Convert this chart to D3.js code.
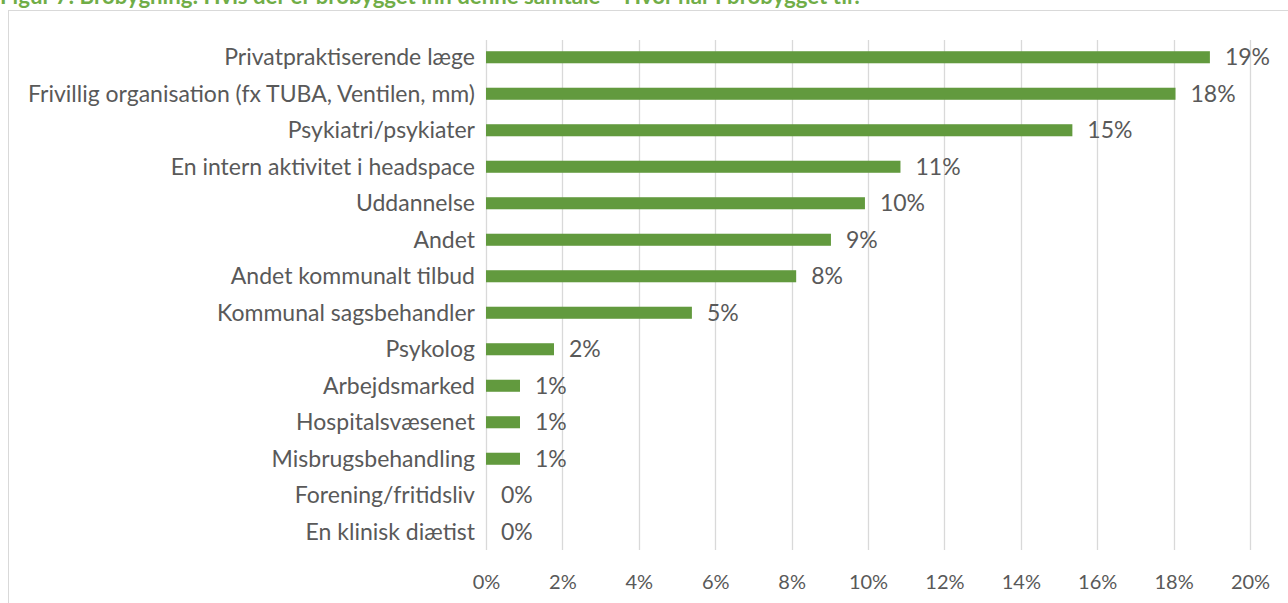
<!DOCTYPE html>
<html><head><meta charset="utf-8">
<script src="https://cdn.jsdelivr.net/npm/d3@7"></script>
<style>
html,body{margin:0;padding:0;background:#fff;overflow:hidden}
svg{display:block}
</style></head>
<body>
<svg id="c" width="1288" height="603"></svg>
<script>
const categories = [
  "Privatpraktiserende læge",
  "Frivillig organisation (fx TUBA, Ventilen, mm)",
  "Psykiatri/psykiater",
  "En intern aktivitet i headspace ",
  "Uddannelse",
  "Andet",
  "Andet kommunalt tilbud",
  "Kommunal sagsbehandler",
  "Psykolog",
  "Arbejdsmarked",
  "Hospitalsvæsenet",
  "Misbrugsbehandling",
  "Forening/fritidsliv",
  "En klinisk diætist"
];
const values = [18.95, 18.05, 15.35, 10.85, 9.92, 9.03, 8.12, 5.39, 1.78, 0.89, 0.89, 0.89, 0, 0];
const valueLabels = ["19%","18%","15%","11%","10%","9%","8%","5%","2%","1%","1%","1%","0%","0%"];
const xTicks = [0,2,4,6,8,10,12,14,16,18,20];
const title = "Figur 7: Brobygning: Hvis der er brobygget inn denne samtale – Hvor har I brobygget til?";

const svg = d3.select("#c");
const font = "Lato, 'Open Sans', sans-serif";
const textColor = "#595959";
const fs = 23;

// title (clipped at top like reference)
svg.append("text").attr("x", 0).attr("y", 4)
  .attr("font-family", "Lato, sans-serif").attr("font-weight", "bold")
  .attr("font-size", 22.2).attr("fill", "#70ad47").text(title);

// chart border
svg.append("rect").attr("x", 8.5).attr("y", 10.5).attr("width", 1300).attr("height", 620)
  .attr("fill", "#fff").attr("stroke", "#d9d9d9").attr("stroke-width", 1);

const x = d3.scaleLinear().domain([0, 20]).range([486, 1250]);
const y = d3.scaleBand().domain(categories).range([39, 550]).paddingInner(0.67).paddingOuter(0.335);

// gridlines
svg.append("g").selectAll("line").data(xTicks).join("line")
  .attr("x1", d => Math.round(x(d)) + 0.5).attr("x2", d => Math.round(x(d)) + 0.5)
  .attr("y1", 40).attr("y2", 550)
  .attr("stroke", "#d9d9d9").attr("stroke-width", 1.3);

// x axis labels
const xAxis = d3.axisBottom(x).tickValues(xTicks).tickFormat(d => d + "%").tickSize(0).tickPadding(0);
const gx = svg.append("g").attr("transform", "translate(0,589)").call(xAxis);
gx.select(".domain").remove();
gx.selectAll("text").attr("font-family", font).attr("font-size", 20).attr("fill", textColor).attr("dy", "0");

// y axis labels
const yAxis = d3.axisLeft(y).tickSize(0).tickPadding(0);
const gy = svg.append("g").attr("transform", "translate(475,0)").call(yAxis);
gy.select(".domain").remove();
gy.selectAll("text").attr("font-family", font).attr("font-size", fs).attr("fill", textColor).attr("dy", "0.35em");

// bars
svg.append("g").selectAll("rect").data(categories).join("rect")
  .attr("x", x(0))
  .attr("y", d => y(d))
  .attr("width", (d, i) => x(values[i]) - x(0))
  .attr("height", y.bandwidth())
  .attr("fill", "#629a3e");

// value labels
svg.append("g").selectAll("text").data(categories).join("text")
  .attr("x", (d, i) => x(values[i]) + 15)
  .attr("y", d => y(d) + y.bandwidth() / 2)
  .attr("dy", "0.35em")
  .attr("font-family", font).attr("font-size", fs).attr("fill", textColor)
  .text((d, i) => valueLabels[i]);
</script>
</body></html>
